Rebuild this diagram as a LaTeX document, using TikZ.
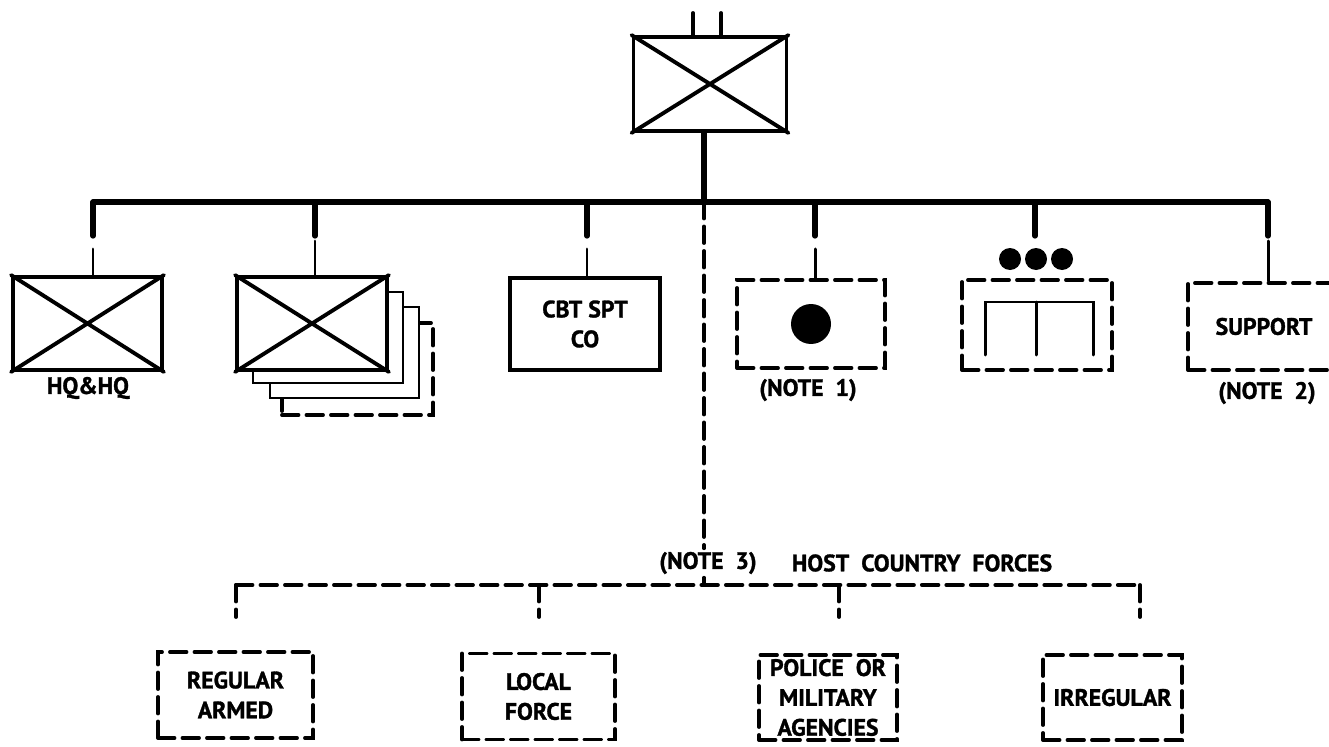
\documentclass[tikz,border=0pt]{standalone}
\usepackage{fontspec}
\setmainfont{PT Sans}[BoldFeatures={FakeBold=1.3}]
\usetikzlibrary{positioning}

\begin{document}
\begin{tikzpicture}[x=0.02cm, y=-0.02cm, line width=2.2pt, line cap=round,
    txt/.style={font=\bfseries\fontsize{13.5}{17}\selectfont, align=center, inner sep=1pt},
    unit/.style={txt, draw, fill=white, minimum width=3cm, minimum height=1.86cm},
    brk/.style={dash pattern=on 0.33cm off 0.16cm},
    hostbox/.style={unit, brk, minimum height=1.72cm},
    bar/.style={line width=3pt},
    stub/.style={line width=1.7pt}]
    \useasboundingbox (0,0) rectangle (1329,747);

    \node[unit, minimum width=3.06cm, minimum height=1.88cm] (bde) at (710,84) {};
    \node[unit, minimum width=2.98cm] (hq) at (87.5,323.5) {};
    \node[txt] (hqlbl) at (88,388) {HQ\&HQ};

    \node[unit, brk, minimum width=3.02cm, minimum height=1.84cm] (bn4) at (357.5,369) {};
    \node[unit, line width=1.4pt, minimum width=2.98cm, minimum height=1.82cm] (bn3) at (344.5,352.5) {};
    \node[unit, line width=1.4pt, minimum height=1.82cm] (bn2) at (328,337.5) {};
    \node[unit] (bn) at (312,323.5) {};

    \node[unit, minimum height=1.84cm] (cbt) at (585,324) {CBT SPT\\CO};
    \node[unit, brk, minimum width=2.96cm, minimum height=1.76cm] (sig) at (811,324) {};
    \node[txt] (siglbl) at (808,390) {(NOTE\ \ 1)};
    \node[unit, brk, minimum height=1.8cm] (mi) at (1037,325) {};
    \node[unit, brk, minimum width=3.04cm, minimum height=1.74cm] (spt) at (1264,326.5) {SUPPORT};
    \node[txt] (sptlbl) at (1267,393) {(NOTE\ \ 2)};

    \foreach \b in {bde, hq, bn} {
        \draw (\b.north west) -- (\b.south east) (\b.south west) -- (\b.north east);
    }
    \fill (sig) circle[radius=0.4cm];
    \fill (1010,259) circle[radius=0.22cm] (1036,259) circle[radius=0.22cm] (1062,259) circle[radius=0.22cm];
    \draw[stub] (985,355) -- (985,302) -- (1093,302) -- (1093,355) (1036,302) -- (1036,355);

    \coordinate (s1) at (693,13);
    \coordinate (s2) at (721,13);
    \draw (s1) -- (s1 |- bde.north) (s2) -- (s2 |- bde.north);

    \coordinate (d1) at (93,202);
    \coordinate (d2) at (315,202);
    \coordinate (d3) at (587,202);
    \coordinate (d4) at (704,202);
    \coordinate (d5) at (815,202);
    \coordinate (d6) at (1035,202);
    \coordinate (d7) at (1268,202);
    \foreach \i in {1,2,3,5,6,7} {
        \coordinate (k\i) at ([yshift=-0.68cm]d\i);
        \draw[bar] (d\i) -- (k\i);
    }
    \draw[bar] (d1) -- (d7);
    \draw[bar] (d4 |- bde.south) -- (d4);
    \draw[stub] ([yshift=-0.26cm]k1) -- (k1 |- hq.north);
    \draw[stub] ([yshift=-0.1cm]k2) -- (k2 |- bn.north);
    \draw[stub] ([yshift=-0.26cm]k3) -- (k3 |- cbt.north);
    \draw[stub] ([yshift=-0.26cm]k5) -- (k5 |- sig.north);
    \draw[stub] ([yshift=-0.1cm]k7) -- (k7 |- spt.north);

    \node[txt] (n3) at (708,563) {(NOTE\ \ 3)};
    \node[txt] (hcf) at (922,563) {HOST\ \ COUNTRY\ \ FORCES};
    \coordinate (h1) at (236,585);
    \coordinate (h2) at (539,585);
    \coordinate (h3) at (839,585);
    \coordinate (h4) at (1140,585);
    \draw[brk] (d4) -- (d4 |- n3.north);
    \draw[brk] (d4 |- n3.south) -- (d4 |- h1);
    \draw[brk] (h1) -- (h4);
    \foreach \i in {1,...,4} {
        \coordinate (e\i) at ([yshift=-0.64cm]h\i);
        \draw[brk] (h\i) -- (e\i);
    }

    \node[hostbox, minimum width=3.1cm] (reg) at (235.5,695) {REGULAR\\ARMED};
    \node[hostbox, minimum width=3.06cm] (loc) at (538.5,696.5) {LOCAL\\FORCE};
    \node[hostbox, minimum width=2.76cm, minimum height=1.7cm] (pol) at (828,697.5) {POLICE\ \ OR\\MILITARY\\AGENCIES};
    \node[hostbox, minimum width=2.78cm, minimum height=1.7cm] (irr) at (1112.5,697.5) {IRREGULAR};
\end{tikzpicture}
\end{document}
